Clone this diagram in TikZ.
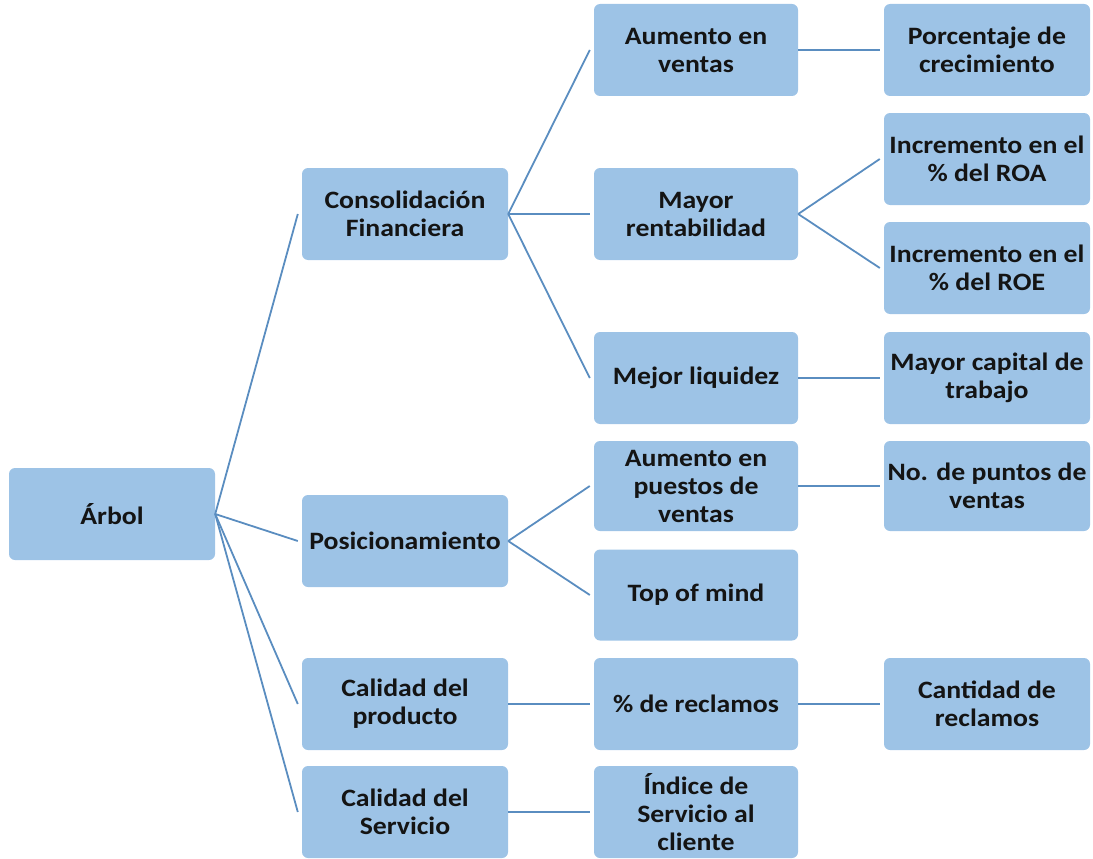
\documentclass[tikz,border=0pt]{standalone}
\usepackage{fontspec}
\setmainfont{Carlito}
\newfontfamily\boxfont[FakeStretch=1.11]{Carlito}
\definecolor{boxfill}{HTML}{9DC3E6}
\definecolor{linecol}{HTML}{5A8DC0}
\definecolor{txt}{HTML}{141414}
\begin{document}
\begin{tikzpicture}[x=1pt,y=-1pt,
  box/.style={draw=none,fill=boxfill,rounded corners=6pt,minimum width=206pt,minimum height=92pt,
    align=center,inner sep=0pt,text=txt,font=\boxfont\fontsize{25}{28}\selectfont\bfseries},
  link/.style={draw=linecol,line width=1.8pt}]
\useasboundingbox (0,0) rectangle (1093,859);
% level 0
\node[box] (arbol) at (112,514) {Árbol};
% level 1
\node[box] (cons) at (405,214) {Consolidación\\Financiera};
\node[box] (pos) at (405,541) {Posicionamiento};
\node[box] (calp) at (405,704) {Calidad del\\producto};
\node[box] (cals) at (405,812) {Calidad del\\Servicio};
% level 2
\node[box,minimum width=204pt] (aum) at (696,50) {Aumento en\\ventas};
\node[box,minimum width=204pt] (rent) at (696,214) {Mayor\\rentabilidad};
\node[box,minimum width=204pt] (liq) at (696,378) {Mejor liquidez};
\node[box,minimum width=204pt,minimum height=90pt] (pues) at (696,486) {Aumento en\\puestos de\\ventas};
\node[box,minimum width=204pt,minimum height=91pt] (top) at (696,595) {Top of mind};
\node[box,minimum width=204pt] (rec) at (696,704) {\% de reclamos};
\node[box,minimum width=204pt] (ind) at (696,812) {Índice de\\Servicio al\\cliente};
% level 3
\node[box] (porc) at (987,50) {Porcentaje de\\crecimiento};
\node[box] (roa) at (987,159) {Incremento en el\\\% del ROA};
\node[box] (roe) at (987,268) {Incremento en el\\\% del ROE};
\node[box] (cap) at (987,378) {Mayor capital de\\trabajo};
\node[box,minimum height=90pt] (ptos) at (987,486) {No. de puntos de\\ventas};
\node[box] (cant) at (987,704) {Cantidad de\\reclamos};
% connectors
\foreach \c in {cons,pos,calp,cals}
  \draw[link] (arbol.east) -- ([xshift=-4pt]\c.west);
\foreach \c in {aum,rent,liq}
  \draw[link] (cons.east) -- ([xshift=-4pt]\c.west);
\foreach \c in {pues,top}
  \draw[link] (pos.east) -- ([xshift=-4pt]\c.west);
\draw[link] (calp.east) -- ([xshift=-4pt]rec.west);
\draw[link] (cals.east) -- ([xshift=-4pt]ind.west);
\draw[link] (aum.east) -- ([xshift=-4pt]porc.west);
\foreach \c in {roa,roe}
  \draw[link] (rent.east) -- ([xshift=-4pt]\c.west);
\draw[link] (liq.east) -- ([xshift=-4pt]cap.west);
\draw[link] (pues.east) -- ([xshift=-4pt]ptos.west);
\draw[link] (rec.east) -- ([xshift=-4pt]cant.west);
\end{tikzpicture}
\end{document}
